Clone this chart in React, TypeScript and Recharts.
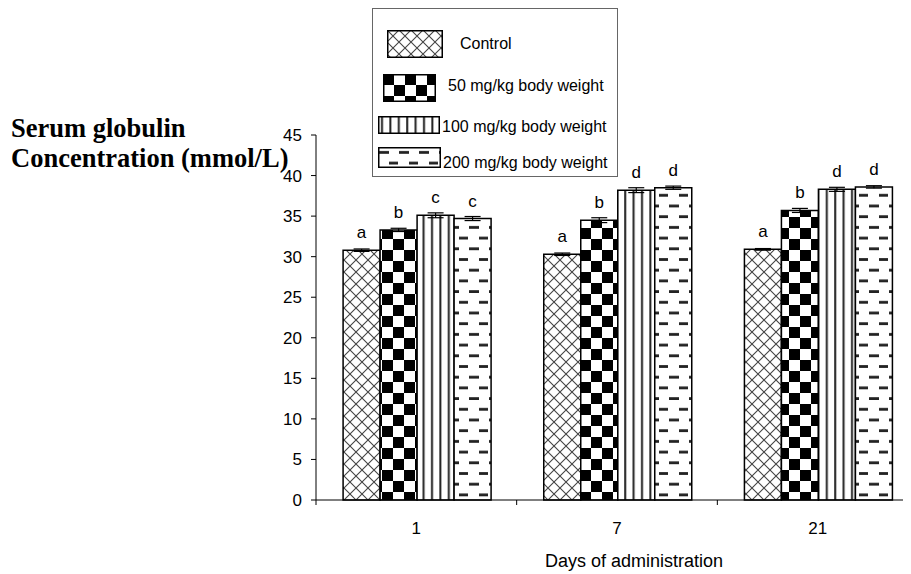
import { Bar, BarChart, ErrorBar, LabelList, XAxis, YAxis } from 'recharts'

const days = ['1', '7', '21']
const control = [30.8, 30.3, 30.9]
const mg50 = [33.3, 34.5, 35.7]
const mg100 = [35.1, 38.2, 38.3]
const mg200 = [34.7, 38.5, 38.6]
const controlErr = [0.15, 0.15, 0.1]
const mg50Err = [0.2, 0.3, 0.25]
const mg100Err = [0.3, 0.3, 0.25]
const mg200Err = [0.25, 0.2, 0.15]
const controlLetters = ['a', 'a', 'a']
const mg50Letters = ['b', 'b', 'b']
const mg100Letters = ['c', 'd', 'd']
const mg200Letters = ['c', 'd', 'd']
const yTicks = [0, 5, 10, 15, 20, 25, 30, 35, 40, 45]

const data = days.map((day, i) => ({
  day,
  control: control[i],
  controlErr: controlErr[i],
  controlLetter: controlLetters[i],
  mg50: mg50[i],
  mg50Err: mg50Err[i],
  mg50Letter: mg50Letters[i],
  mg100: mg100[i],
  mg100Err: mg100Err[i],
  mg100Letter: mg100Letters[i],
  mg200: mg200[i],
  mg200Err: mg200Err[i],
  mg200Letter: mg200Letters[i],
}))

const CHART_W = 912
const CHART_H = 566
const Y_AXIS_W = 308
const MARGIN = { top: 127, right: 2, bottom: 0, left: 0 }
const PLOT_W = CHART_W - MARGIN.left - MARGIN.right - Y_AXIS_W
const BAND = PLOT_W / days.length

const SANS = '"Liberation Sans", Arial, sans-serif'

function Patterns() {
  return (
    <svg width={0} height={0} style={{ position: 'absolute' }}>
      <defs>
        <pattern id="pCross" width={12} height={12} patternUnits="userSpaceOnUse">
          <rect width={12} height={12} fill="#fff" />
          <path d="M0,0 L12,12 M12,0 L0,12" stroke="#444" strokeWidth={1.1} />
        </pattern>
        <pattern id="pCheck" width={22} height={22} patternUnits="userSpaceOnUse">
          <rect width={22} height={22} fill="#fff" />
          <rect x={0} y={0} width={11} height={11} fill="#000" />
          <rect x={11} y={11} width={11} height={11} fill="#000" />
        </pattern>
        <pattern id="pVert" width={8.4} height={10} patternUnits="userSpaceOnUse">
          <rect width={8.4} height={10} fill="#fff" />
          <rect x={3} y={0} width={2} height={10} fill="#222" />
        </pattern>
        <pattern id="pDash" width={20} height={21.4} patternUnits="userSpaceOnUse">
          <rect width={20} height={21.4} fill="#fff" />
          <rect x={1} y={4} width={10} height={2.8} fill="#222" />
          <rect x={11} y={14.7} width={10} height={2.8} fill="#222" />
        </pattern>
      </defs>
    </svg>
  )
}

function DayTick(props: any) {
  const { x, y, payload, index } = props
  return (
    <g>
      <line x1={x - BAND / 2} x2={x - BAND / 2} y1={y} y2={y + 5} stroke="#000" />
      {index === days.length - 1 && <line x1={x + BAND / 2} x2={x + BAND / 2} y1={y} y2={y + 5} stroke="#000" />}
      <text x={x} y={y + 34} textAnchor="middle" fontSize={17} fill="#000" fontFamily={SANS}>
        {payload.value}
      </text>
    </g>
  )
}

function YTitle() {
  return (
    <text fontFamily='"Liberation Serif", "Times New Roman", serif' fontWeight="bold" fontSize={26.5} fill="#000">
      <tspan x={3} y={129}>Serum globulin</tspan>
      <tspan x={3} y={159}>Concentration (mmol/L)</tspan>
    </text>
  )
}

function XTitle(props: any) {
  const vb = props.viewBox
  return (
    <text x={vb.x + vb.width / 2 + 17} y={vb.y + vb.height - 7} textAnchor="middle" fontSize={18} fill="#000" fontFamily={SANS}>
      Days of administration
    </text>
  )
}

const legendItems = [
  { label: 'Control', fill: 'url(#pCross)', sw: { left: 14, top: 21, width: 56, height: 28 }, text: { left: 87, top: 35 } },
  { label: '50 mg/kg body weight', fill: 'url(#pCheck)', sw: { left: 10, top: 65, width: 53, height: 28 }, text: { left: 75, top: 77 } },
  { label: '100 mg/kg body weight', fill: 'url(#pVert)', sw: { left: 5, top: 107, width: 62, height: 18 }, text: { left: 69, top: 118 } },
  { label: '200 mg/kg body weight', fill: 'url(#pDash)', sw: { left: 5, top: 138, width: 63, height: 21 }, text: { left: 70, top: 154 } },
]

function LegendBox() {
  return (
    <div
      style={{
        position: 'absolute',
        left: 364,
        top: 0,
        width: 244,
        height: 167,
        border: '1px solid #666',
        background: '#fff',
        fontFamily: SANS,
        fontSize: 16,
        color: '#000',
      }}
    >
      {legendItems.map((it) => (
        <div key={it.label}>
          <svg style={{ position: 'absolute', ...it.sw }} width={it.sw.width} height={it.sw.height}>
            <rect x={0.75} y={0.75} width={it.sw.width - 1.5} height={it.sw.height - 1.5} fill={it.fill} stroke="#000" strokeWidth={1.5} />
          </svg>
          <span
            style={{
              position: 'absolute',
              left: it.text.left,
              top: it.text.top,
              transform: 'translateY(-50%)',
              whiteSpace: 'nowrap',
              lineHeight: '18px',
            }}
          >
            {it.label}
          </span>
        </div>
      ))}
    </div>
  )
}

export default function App() {
  return (
    <div style={{ position: 'relative', width: 903, height: CHART_H, overflow: 'hidden', fontFamily: SANS }}>
      <style>{'html,body{overflow:hidden}'}</style>
      <Patterns />
      <BarChart
        width={CHART_W}
        height={CHART_H}
        data={data}
        margin={MARGIN}
        barCategoryGap="13.5%"
        barGap={0}
        style={{ fontFamily: SANS }}
      >
        <XAxis
          dataKey="day"
          height={74}
          tickSize={0}
          tickMargin={0}
          tickLine={false}
          axisLine={{ stroke: '#000' }}
          tick={<DayTick />}
          interval={0}
          label={{ content: XTitle }}
        />
        <YAxis
          type="number"
          domain={[0, 45]}
          ticks={yTicks}
          interval={0}
          width={Y_AXIS_W}
          tickSize={5}
          tickMargin={9}
          axisLine={{ stroke: '#000' }}
          tickLine={{ stroke: '#000' }}
          tick={{ fill: '#000', fontSize: 17 }}
          label={{ content: YTitle }}
        />
        <Bar dataKey="control" fill="url(#pCross)" stroke="#000" strokeWidth={1.5} isAnimationActive={false}>
          <ErrorBar dataKey="controlErr" width={8} stroke="#000" strokeWidth={1.2} />
          <LabelList dataKey="controlLetter" position="top" offset={12} fill="#000" fontSize={17} />
        </Bar>
        <Bar dataKey="mg50" fill="url(#pCheck)" stroke="#000" strokeWidth={1.5} isAnimationActive={false}>
          <ErrorBar dataKey="mg50Err" width={8} stroke="#000" strokeWidth={1.2} />
          <LabelList dataKey="mg50Letter" position="top" offset={12} fill="#000" fontSize={17} />
        </Bar>
        <Bar dataKey="mg100" fill="url(#pVert)" stroke="#000" strokeWidth={1.5} isAnimationActive={false}>
          <ErrorBar dataKey="mg100Err" width={8} stroke="#000" strokeWidth={1.2} />
          <LabelList dataKey="mg100Letter" position="top" offset={12} fill="#000" fontSize={17} />
        </Bar>
        <Bar dataKey="mg200" fill="url(#pDash)" stroke="#000" strokeWidth={1.5} isAnimationActive={false}>
          <ErrorBar dataKey="mg200Err" width={8} stroke="#000" strokeWidth={1.2} />
          <LabelList dataKey="mg200Letter" position="top" offset={12} fill="#000" fontSize={17} />
        </Bar>
      </BarChart>
      <LegendBox />
    </div>
  )
}
